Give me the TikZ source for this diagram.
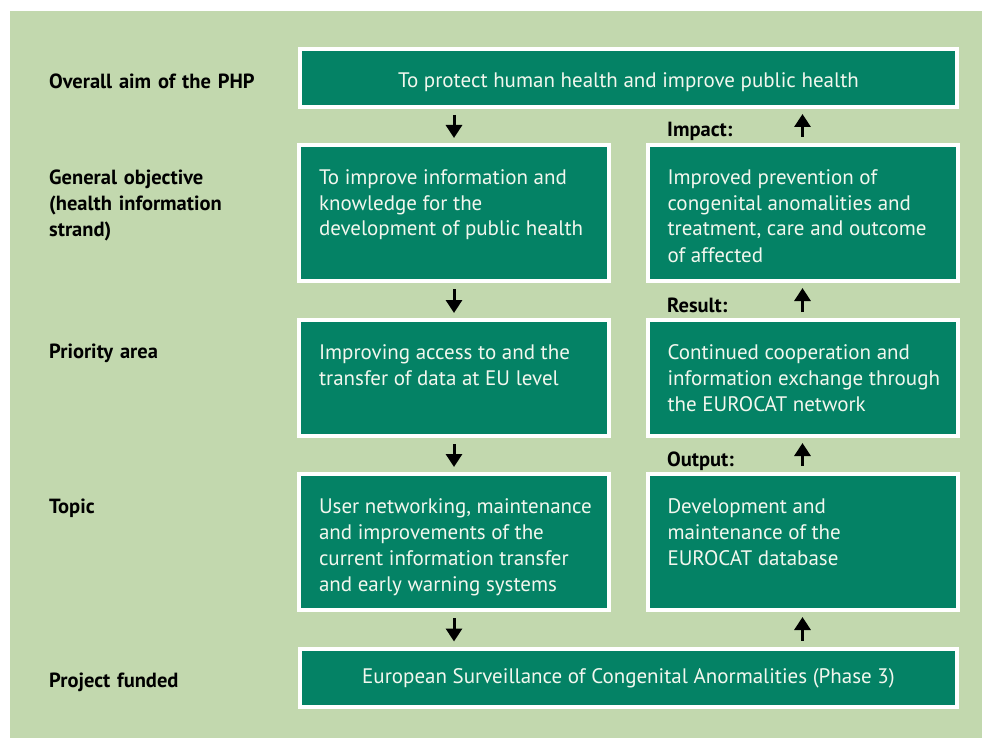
\documentclass[tikz,border=0pt]{standalone}
\usepackage{fontspec}
\setmainfont{PT Sans}
\usetikzlibrary{arrows.meta}

\definecolor{phpback}{RGB}{194,216,174}
\definecolor{phpgreen}{RGB}{4,130,101}
\definecolor{phptext}{RGB}{242,247,238}

% text set at the top of a tall box
\newcommand\boxtext[2]{\parbox[c][#1][t]{300pt}{\raggedright\leftskip=15pt\rule{0pt}{39pt}#2}}

\begin{document}
\begin{tikzpicture}[x=1pt, y=-1pt,
    every node/.style={font=\fontsize{21}{26}\selectfont},
    phpbox/.style={draw=white, line width=4pt, fill=phpgreen, text=phptext, inner xsep=5pt, inner ysep=0pt},
    widebox/.style={draw=white, line width=4pt, fill=phpgreen, text=phptext, minimum width=657pt, minimum height=58pt, text height=14pt, text depth=3pt},
    rowlabel/.style={anchor=base west, inner sep=0pt, text width=220pt, align=left, font=\fontsize{20.5}{26}\selectfont\bfseries},
    flowarrow/.style={line width=3pt, -{Triangle[width=16pt,length=13pt]}, shorten <=6pt, shorten >=5pt}]
		\useasboundingbox (0,0) rectangle (982,738);
		\fill[white] (0,0) rectangle (982,738);
		\fill[phpback] (10,11) rectangle (982,738);
		
		% Row labels
		\node[rowlabel] (lblaim)   at (49,89)  {Overall aim of the PHP};
		\node[rowlabel] (lblgen)   at (49,185) {General objective\\(health information\\strand)};
		\node[rowlabel] (lblprio)  at (49,358) {Priority area};
		\node[rowlabel] (lbltopic) at (49,513) {Topic};
		\node[rowlabel] (lblproj)  at (49,687) {Project funded};
		
		% Boxes
		\node[widebox, text height=20pt, text depth=0pt] (aim) at (628.5,78) {To protect human health and improve public health};
		\node[phpbox] (genobj) at (454,213) {\boxtext{136pt}{To improve information and\\knowledge for the\\development of public health}};
		\node[phpbox] (prio)   at (454,378) {\boxtext{116pt}{Improving access to and the\\transfer of data at EU level}};
		\node[phpbox] (topic)  at (454,542) {\boxtext{136pt}{User networking, maintenance\\and improvements of the\\current information transfer\\and early warning systems}};
		\node[widebox] (proj) at (628.5,677.5) {European Surveillance of Congenital Anormalities (Phase 3)};
		\node[phpbox] (impact) at (802.5,213) {\boxtext{136pt}{Improved prevention of\\congenital anomalities and\\treatment, care and outcome\\of affected}};
		\node[phpbox] (result) at (802.5,378) {\boxtext{116pt}{Continued cooperation and\\information exchange through\\the EUROCAT network}};
		\node[phpbox] (output) at (802.5,542) {\boxtext{136pt}{Development and\\maintenance of the\\EUROCAT database}};
		
		% Step labels
		\node[rowlabel] (lblimpact) at (667,137) {Impact:};
		\node[rowlabel] (lblresult) at (667,312) {Result:};
		\node[rowlabel] (lbloutput) at (667,466) {Output:};
		
		% Arrows
		\foreach \a/\b in {aim/genobj, genobj/prio, prio/topic, topic/proj}{
			\draw[flowarrow] (\a.south -| genobj) -- (\b.north -| genobj);
		}
		\foreach \a/\b in {proj/output, output/result, result/impact, impact/aim}{
			\draw[flowarrow] (\a.north -| impact) -- (\b.south -| impact);
		}
	\end{tikzpicture}
\end{document}
